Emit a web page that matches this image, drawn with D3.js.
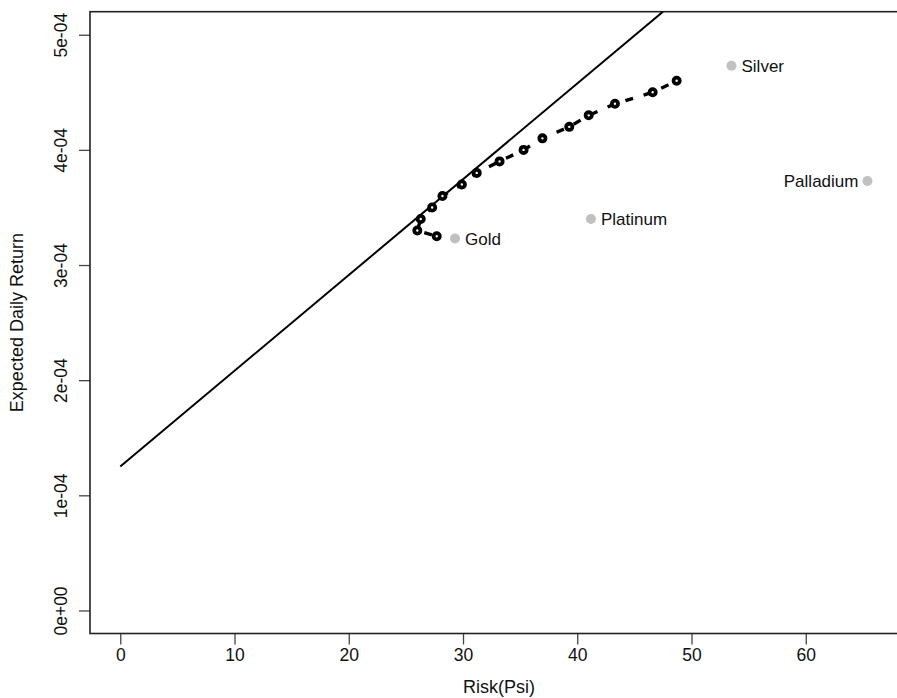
<!DOCTYPE html>
<html>
<head>
<meta charset="utf-8">
<script src="https://cdn.jsdelivr.net/npm/d3@7"></script>
<style>
  html, body { margin: 0; padding: 0; background: #fff; }
  text { font-family: "Liberation Sans", Arial, sans-serif; fill: #111; }
</style>
</head>
<body>
<div id="chart"></div>
<script>
// efficient frontier points (risk, expected daily return)
const frontierRisk = [27.7, 26.0, 26.3, 27.3, 28.2, 29.9, 31.2, 33.2, 35.3, 36.95, 39.3, 41.0, 43.3, 46.6, 48.7];
const frontierReturn = [3.25e-4, 3.3e-4, 3.4e-4, 3.5e-4, 3.6e-4, 3.7e-4, 3.8e-4, 3.9e-4, 4.0e-4, 4.1e-4, 4.2e-4, 4.3e-4, 4.4e-4, 4.5e-4, 4.6e-4];

// single assets
const assetNames = ["Gold", "Platinum", "Silver", "Palladium"];
const assetRisk = [29.3, 41.2, 53.5, 65.4];
const assetReturn = [3.23e-4, 3.40e-4, 4.73e-4, 3.73e-4];

// tangent line
const tangentRisk = [0, 47.5];
const tangentReturn = [1.25e-4, 5.2e-4];

const xTicks = [0, 10, 20, 30, 40, 50, 60];
const yTicks = [0, 1e-4, 2e-4, 3e-4, 4e-4, 5e-4];
const yTickLabels = ["0e+00", "1e-04", "2e-04", "3e-04", "4e-04", "5e-04"];

const width = 897, height = 698;
const plot = {left: 90, right: 908, top: 11.7, bottom: 633.5};

const svg = d3.select("#chart").append("svg")
    .attr("width", width)
    .attr("height", height);

let x = d3.scaleLinear().domain([-2.65, 68.95]).range([plot.left, plot.right]);
let y = d3.scaleLinear().domain([-0.2e-4, 5.2e-4]).range([plot.bottom, plot.top]);

svg.append("clipPath").attr("id", "plotclip")
    .append("rect")
    .attr("x", plot.left).attr("y", plot.top)
    .attr("width", plot.right - plot.left).attr("height", plot.bottom - plot.top);

// axes
let xAxis = svg.append("g")
    .attr("transform", `translate(0,${plot.bottom})`)
    .call(d3.axisBottom(x).tickValues(xTicks).tickSize(11).tickPadding(4).tickFormat(d3.format("d")));
xAxis.select(".domain").remove();
xAxis.selectAll("line").attr("stroke", "#444").attr("stroke-width", 1.3);
xAxis.selectAll("text").attr("font-size", "17.5px").attr("fill", "#111")
    .attr("font-family", "Liberation Sans, Arial, sans-serif");

let yAxis = svg.append("g")
    .attr("transform", `translate(${plot.left},0)`)
    .call(d3.axisLeft(y).tickValues(yTicks).tickSize(11).tickFormat((d, i) => yTickLabels[i]));
yAxis.select(".domain").remove();
yAxis.selectAll("line").attr("stroke", "#444").attr("stroke-width", 1.3);
yAxis.selectAll("text")
    .attr("font-size", "17.5px").attr("fill", "#111")
    .attr("font-family", "Liberation Sans, Arial, sans-serif")
    .attr("text-anchor", "middle")
    .attr("dy", 0)
    .attr("x", 0)
    .attr("transform", "translate(-23,0) rotate(-90)");

// box
svg.append("rect")
    .attr("x", plot.left).attr("y", plot.top)
    .attr("width", plot.right - plot.left).attr("height", plot.bottom - plot.top)
    .attr("fill", "none").attr("stroke", "#222").attr("stroke-width", 1.6);

// axis titles
svg.append("text")
    .attr("x", (plot.left + plot.right) / 2).attr("y", 693)
    .attr("text-anchor", "middle").attr("font-size", "18px")
    .text("Risk(Psi)");
svg.append("text")
    .attr("transform", `translate(23,${(plot.top + plot.bottom) / 2}) rotate(-90)`)
    .attr("text-anchor", "middle").attr("font-size", "18px")
    .text("Expected Daily Return");

let inner = svg.append("g").attr("clip-path", "url(#plotclip)");

// tangent line
inner.append("path")
    .datum(d3.zip(tangentRisk, tangentReturn))
    .attr("d", d3.line().x(d => x(d[0])).y(d => y(d[1])))
    .attr("fill", "none").attr("stroke", "#000").attr("stroke-width", 2);

// frontier dashed line
inner.append("path")
    .datum(d3.zip(frontierRisk, frontierReturn))
    .attr("d", d3.line().x(d => x(d[0])).y(d => y(d[1])))
    .attr("fill", "none").attr("stroke", "#000").attr("stroke-width", 3.4)
    .attr("stroke-dasharray", "8,11")
    .attr("stroke-dashoffset", 14);

// frontier points
inner.selectAll(".fp")
    .data(d3.zip(frontierRisk, frontierReturn))
    .join("circle")
    .attr("class", "fp")
    .attr("cx", d => x(d[0])).attr("cy", d => y(d[1]))
    .attr("r", 3.1)
    .attr("fill", "#fff").attr("stroke", "#000").attr("stroke-width", 3.8);

// asset points
let assets = d3.range(assetNames.length).map(i => ({name: assetNames[i], r: assetRisk[i], m: assetReturn[i]}));
inner.selectAll(".ap")
    .data(assets)
    .join("circle")
    .attr("class", "ap")
    .attr("cx", d => x(d.r)).attr("cy", d => y(d.m))
    .attr("r", 5)
    .attr("fill", "#c0c0c0");

inner.selectAll(".al")
    .data(assets)
    .join("text")
    .attr("class", "al")
    .attr("x", d => d.name === "Palladium" ? x(d.r) - 9 : x(d.r) + 10)
    .attr("y", d => y(d.m) + 6.5)
    .attr("text-anchor", d => d.name === "Palladium" ? "end" : "start")
    .attr("font-size", "17px")
    .text(d => d.name);
</script>
</body>
</html>
